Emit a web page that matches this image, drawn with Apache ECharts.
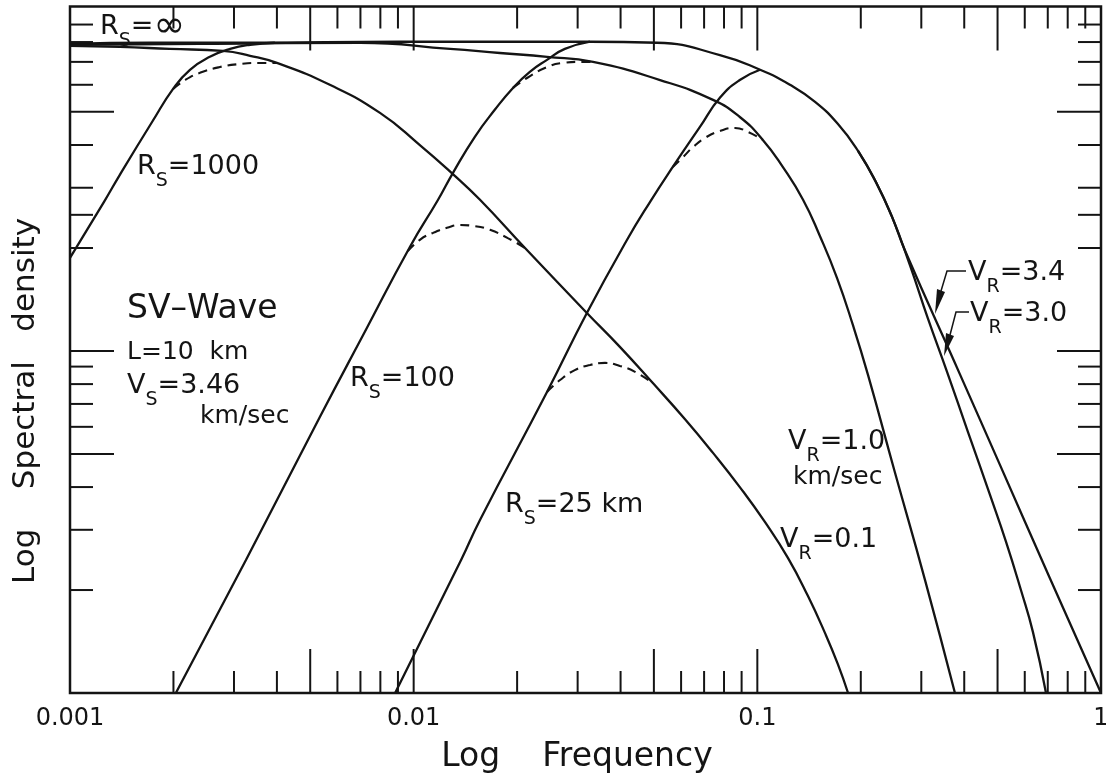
<!DOCTYPE html>
<html>
<head>
<meta charset="utf-8">
<script src="https://cdn.jsdelivr.net/npm/echarts@6/dist/echarts.min.js"></script>
<style>
  html, body { margin: 0; padding: 0; background: #fff; }
  #chart { width: 1106px; height: 779px; }
</style>
</head>
<body>
<div id="chart"></div>
<script>
// Values are [log10 frequency, log10 spectral density].
const X_MIN = -3, X_MAX = 0, Y_MIN = 0, Y_MAX = 2.007;

// Frequency axis labels at the decades -3 ... 0
const xTickLabels = ['0.001', '0.01', '0.1', '1'];
const freqDecades = [-3, -2, -1];
const freqMultipliers = [2, 3, 4, 5, 6, 7, 8, 9, 10];
const longFreqMultipliers = [5, 10];
// Density axis tick marks (linear units, unlabelled)
const densityTicks = [2, 3, 4, 5, 6, 7, 8, 9, 10, 20, 25, 30, 40, 50, 60, 70, 80, 90];
const longDensityTicks = [5, 10, 50];

// Far-field spectra (R_S = ∞) for each rupture velocity
const farFieldVr34 = [
  [-3.000, 1.898], [-2.767, 1.901], [-2.476, 1.901], [-2.040, 1.904], [-1.487, 1.904],
  [-1.292, 1.901], [-1.109, 1.865], [-0.992, 1.822], [-0.905, 1.778], [-0.832, 1.728],
  [-0.766, 1.664], [-0.707, 1.585], [-0.655, 1.494], [-0.608, 1.392], [-0.571, 1.295],
  [-0.411, 0.933], [-0.294, 0.667], [-0.149, 0.336], [0.000, 0.000]
];
const farFieldVr30 = [
  [-0.707, 1.585], [-0.655, 1.494], [-0.608, 1.392], [-0.556, 1.251], [-0.504, 1.096],
  [-0.448, 0.939], [-0.387, 0.763], [-0.323, 0.579], [-0.277, 0.444], [-0.233, 0.301],
  [-0.198, 0.178], [-0.160, 0.000]
];
const farFieldVr10 = [
  [-3.000, 1.895], [-2.622, 1.898], [-2.156, 1.901], [-1.894, 1.883], [-1.749, 1.871],
  [-1.612, 1.860], [-1.478, 1.845], [-1.283, 1.792], [-1.129, 1.734], [-1.051, 1.684],
  [-0.984, 1.617], [-0.926, 1.538], [-0.867, 1.442], [-0.818, 1.336], [-0.768, 1.213],
  [-0.722, 1.076], [-0.678, 0.930], [-0.600, 0.646], [-0.512, 0.330], [-0.425, 0.000]
];
const farFieldVr01 = [
  [-3.000, 1.892], [-2.855, 1.889], [-2.709, 1.883], [-2.555, 1.877], [-2.476, 1.863],
  [-2.398, 1.842], [-2.244, 1.778], [-2.098, 1.696], [-1.982, 1.602], [-1.889, 1.520],
  [-1.807, 1.442], [-1.676, 1.301], [-1.496, 1.111], [-1.400, 1.012], [-1.304, 0.906],
  [-1.211, 0.801], [-1.129, 0.702], [-1.051, 0.602], [-0.978, 0.500], [-0.911, 0.395],
  [-0.853, 0.284], [-0.803, 0.175], [-0.766, 0.085], [-0.736, 0.000]
];

// Near-field factors for finite source distance R_S
const nearFieldRs1000 = [
  [-3.000, 1.272], [-2.901, 1.436], [-2.855, 1.515], [-2.759, 1.673], [-2.700, 1.766],
  [-2.651, 1.822], [-2.593, 1.860], [-2.534, 1.883], [-2.476, 1.895], [-2.404, 1.901]
];
const nearFieldRs100 = [
  [-2.692, 0.000], [-2.488, 0.389], [-2.273, 0.807], [-2.142, 1.056], [-2.011, 1.304],
  [-1.929, 1.442], [-1.886, 1.520], [-1.822, 1.626], [-1.764, 1.705], [-1.711, 1.769],
  [-1.662, 1.816], [-1.612, 1.851], [-1.560, 1.883], [-1.487, 1.904]
];
const nearFieldRs25 = [
  [-2.054, 0.000], [-1.862, 0.389], [-1.807, 0.506], [-1.612, 0.880], [-1.496, 1.111],
  [-1.379, 1.325], [-1.312, 1.436], [-1.246, 1.538], [-1.167, 1.655], [-1.109, 1.740],
  [-1.051, 1.792], [-0.992, 1.822]
];

// Combined spectra where the two corners are close (dashed)
const combinedRs1000Vr01 = [
  [-2.700, 1.766], [-2.665, 1.792], [-2.622, 1.813], [-2.564, 1.830], [-2.505, 1.839],
  [-2.447, 1.842], [-2.398, 1.842]
];
const combinedRs100Vr10 = [
  [-1.711, 1.769], [-1.670, 1.798], [-1.612, 1.830], [-1.566, 1.842], [-1.516, 1.845],
  [-1.478, 1.845]
];
const combinedRs100Vr01 = [
  [-2.017, 1.292], [-1.982, 1.325], [-1.944, 1.345], [-1.903, 1.360], [-1.865, 1.368],
  [-1.822, 1.365], [-1.778, 1.354], [-1.726, 1.330], [-1.676, 1.301]
];
const combinedRs25Vr01 = [
  [-1.612, 0.880], [-1.574, 0.915], [-1.531, 0.944], [-1.487, 0.959], [-1.443, 0.965],
  [-1.400, 0.956], [-1.356, 0.939], [-1.304, 0.906]
];
const combinedRs25Vr10 = [
  [-1.246, 1.538], [-1.216, 1.567], [-1.187, 1.596], [-1.152, 1.623], [-1.109, 1.643],
  [-1.065, 1.652], [-1.027, 1.640], [-0.984, 1.617]
];

const FONT = 'DejaVu Sans';
const INK = '#141414';

// Tick marks: [x, y, isLong, axis(0 = frequency, 1 = density)]
const tickData = [];
freqDecades.forEach(d => freqMultipliers.forEach(k => {
  const v = d + Math.log10(k);
  if (v < X_MAX - 1e-9) tickData.push([v, Y_MIN, longFreqMultipliers.includes(k) ? 1 : 0, 0]);
}));
densityTicks.forEach(t => {
  tickData.push([X_MIN, Math.log10(t), longDensityTicks.includes(t) ? 1 : 0, 1]);
});

function renderTick(params, api) {
  const isLong = api.value(2) === 1;
  const axis = api.value(3);
  const style = { stroke: INK, lineWidth: 2 };
  if (axis === 0) {
    const len = isLong ? 44 : 22;
    const v = api.value(0);
    const b = api.coord([v, Y_MIN]);
    const t = api.coord([v, Y_MAX]);
    return {
      type: 'group',
      children: [
        { type: 'line', shape: { x1: b[0], y1: b[1], x2: b[0], y2: b[1] - len }, style },
        { type: 'line', shape: { x1: t[0], y1: t[1], x2: t[0], y2: t[1] + len }, style }
      ]
    };
  }
  const len = isLong ? 44 : 23;
  const v = api.value(1);
  const l = api.coord([X_MIN, v]);
  const r = api.coord([X_MAX, v]);
  return {
    type: 'group',
    children: [
      { type: 'line', shape: { x1: l[0], y1: l[1], x2: l[0] + len, y2: l[1] }, style },
      { type: 'line', shape: { x1: r[0], y1: r[1], x2: r[0] - len, y2: r[1] }, style }
    ]
  };
}

function solid(name, data) {
  return {
    name, type: 'line', data, symbol: 'none', showSymbol: false,
    smooth: 0.5, silent: true, z: 3,
    lineStyle: { color: INK, width: 2.3 }
  };
}
function dashed(name, data) {
  const s = solid(name, data);
  s.lineStyle = { color: INK, width: 2.1, type: [9, 6] };
  return s;
}

// Annotation text with a subscript ({s|...})
function note(x, y, text, size, extraRich) {
  const sub = Math.round(size * 0.72);
  return {
    type: 'text', x, y, z: 10, silent: true,
    style: {
      text, fontFamily: FONT, fontSize: size, fill: INK,
      align: 'left', verticalAlign: 'middle', lineHeight: size + 4,
      rich: Object.assign({
        s: { fontFamily: FONT, fontSize: sub, fill: INK, padding: [Math.round(size * 1.05), 0, 0, 0] }
      }, extraRich || {})
    }
  };
}

const chart = echarts.init(document.getElementById('chart'), null, { renderer: 'canvas' });

chart.setOption({
  animation: false,
  backgroundColor: '#fff',
  textStyle: { fontFamily: FONT },
  grid: {
    left: 70, right: 5, top: 6.5, bottom: 86,
    show: true, borderColor: INK, borderWidth: 2.5,
    containLabel: false, outerBoundsMode: 'none'
  },
  xAxis: {
    type: 'value', min: X_MIN, max: X_MAX, interval: 1,
    axisLine: { show: false }, axisTick: { show: false }, splitLine: { show: false },
    axisLabel: {
      show: true, showMinLabel: true, showMaxLabel: true,
      fontFamily: FONT, fontSize: 24, color: INK, margin: 14,
      formatter: v => xTickLabels[Math.round(v) - X_MIN]
    }
  },
  yAxis: {
    type: 'value', min: Y_MIN, max: Y_MAX,
    axisLine: { show: false }, axisTick: { show: false }, splitLine: { show: false },
    axisLabel: { show: false }
  },
  series: [
    {
      type: 'custom', coordinateSystem: 'cartesian2d', data: tickData,
      dimensions: ['x', 'y', 'long', 'axis'], encode: { x: 0, y: 1 },
      renderItem: renderTick, silent: true, clip: false, z: 4
    },
    solid('V_R=3.4', farFieldVr34),
    solid('V_R=3.0', farFieldVr30),
    solid('V_R=1.0', farFieldVr10),
    solid('V_R=0.1', farFieldVr01),
    solid('R_S=1000', nearFieldRs1000),
    solid('R_S=100', nearFieldRs100),
    solid('R_S=25', nearFieldRs25),
    dashed('R_S=1000, V_R=0.1', combinedRs1000Vr01),
    dashed('R_S=100, V_R=1.0', combinedRs100Vr10),
    dashed('R_S=100, V_R=0.1', combinedRs100Vr01),
    dashed('R_S=25, V_R=0.1', combinedRs25Vr01),
    dashed('R_S=25, V_R=1.0', combinedRs25Vr10)
  ],
  graphic: [
    // axis titles
    {
      type: 'text', x: 577, y: 757, silent: true,
      style: { text: 'Log    Frequency', fontFamily: FONT, fontSize: 33, fill: INK, align: 'center', verticalAlign: 'middle' }
    },
    {
      type: 'text', x: 26, y: 401, rotation: Math.PI / 2, silent: true,
      style: { text: 'Log    Spectral   density', fontFamily: FONT, fontSize: 31, fill: INK, align: 'center', verticalAlign: 'middle' }
    },
    // curve labels
    note(100, 27, 'R{s|S}={inf|∞}', 27, { inf: { fontFamily: FONT, fontSize: 38, fill: INK } }),
    note(137, 167, 'R{s|S}=1000', 27),
    note(127, 309, 'SV–Wave', 33),
    note(127, 352, 'L=10  km', 25),
    note(127, 386, 'V{s|S}=3.46', 27),
    note(200, 416, 'km/sec', 25),
    note(350, 379, 'R{s|S}=100', 27),
    note(505, 505, 'R{s|S}=25 km', 27),
    note(780, 540, 'V{s|R}=0.1', 27),
    note(788, 442, 'V{s|R}=1.0', 27),
    note(793, 477, 'km/sec', 25),
    note(968, 273, 'V{s|R}=3.4', 27),
    note(970, 314, 'V{s|R}=3.0', 27),
    // leaders for the V_R = 3.4 and 3.0 labels
    {
      type: 'polyline', silent: true,
      shape: { points: [[966, 271], [947, 271], [941, 291]] },
      style: { stroke: INK, lineWidth: 1.5, fill: null }
    },
    {
      type: 'polygon', silent: true,
      shape: { points: [[937, 289], [945, 292], [935, 314]] },
      style: { fill: INK }
    },
    {
      type: 'polyline', silent: true,
      shape: { points: [[969, 312], [956, 312], [950, 335]] },
      style: { stroke: INK, lineWidth: 1.5, fill: null }
    },
    {
      type: 'polygon', silent: true,
      shape: { points: [[946, 333], [954, 336], [944, 356]] },
      style: { fill: INK }
    }
  ]
});
</script>
</body>
</html>
